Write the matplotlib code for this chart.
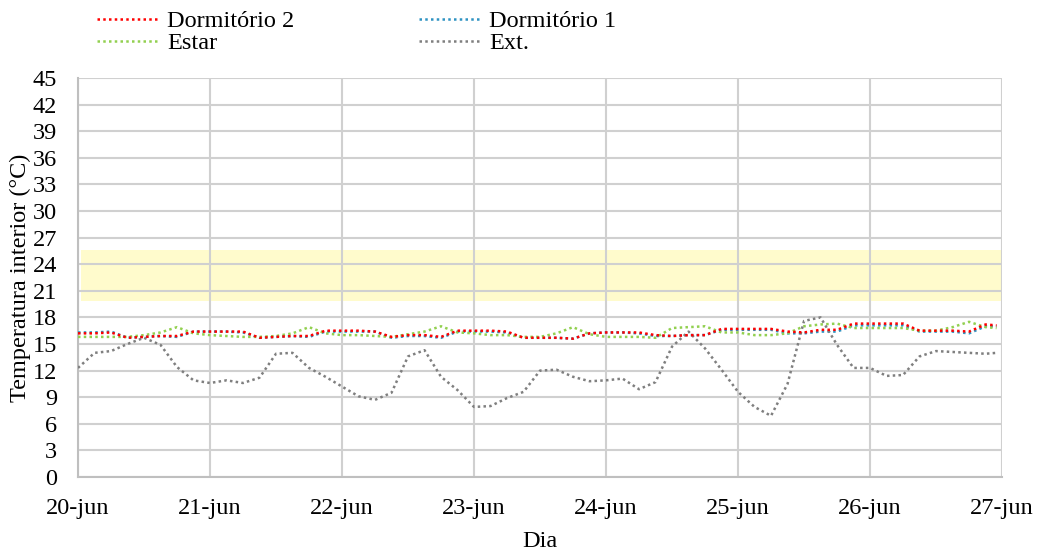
import numpy as np
import matplotlib
matplotlib.use("Agg")
import matplotlib.pyplot as plt

# time in hours since 20-jun 00:00 (3-hourly readings, last at 26-jun 23:00)
hours = list(range(0, 168, 3)) + [167]

day_labels = ['20-jun', '21-jun', '22-jun', '23-jun', '24-jun', '25-jun', '26-jun', '27-jun']

dorm2 = [16.2, 16.2, 16.3, 15.7, 15.8, 15.9, 15.9, 16.4,
         16.4, 16.4, 16.4, 15.7, 15.8, 15.9, 15.9, 16.5,
         16.5, 16.5, 16.4, 15.8, 16.0, 16.0, 15.8, 16.5,
         16.5, 16.5, 16.4, 15.7, 15.7, 15.7, 15.6, 16.2,
         16.3, 16.3, 16.3, 16.0, 15.9, 16.0, 16.0, 16.7,
         16.7, 16.7, 16.7, 16.4, 16.3, 16.6, 16.6, 17.3,
         17.3, 17.3, 17.3, 16.5, 16.5, 16.5, 16.4, 17.2, 17.1]

dorm1 = [16.3, 16.3, 16.4, 15.7, 15.8, 15.9, 15.8, 16.4,
         16.4, 16.4, 16.3, 15.7, 15.8, 15.9, 15.8, 16.4,
         16.4, 16.4, 16.4, 15.7, 15.9, 15.9, 15.7, 16.4,
         16.4, 16.4, 16.3, 15.7, 15.7, 15.7, 15.6, 16.2,
         16.3, 16.3, 16.2, 15.9, 15.9, 16.0, 16.0, 16.6,
         16.6, 16.6, 16.6, 16.2, 16.2, 16.4, 16.4, 17.1,
         17.1, 17.1, 17.1, 16.4, 16.4, 16.4, 16.2, 17.0, 17.0]

estar = [15.8, 15.8, 15.8, 15.8, 16.0, 16.3, 16.9, 16.2,
         16.0, 15.9, 15.8, 15.8, 15.9, 16.2, 16.9, 16.2,
         16.0, 16.0, 15.9, 15.8, 16.1, 16.4, 17.0, 16.3,
         16.2, 16.0, 16.0, 15.8, 15.8, 16.2, 16.9, 16.1,
         15.8, 15.8, 15.8, 15.7, 16.8, 16.9, 17.0, 16.3,
         16.3, 16.0, 16.0, 16.2, 17.0, 17.2, 17.3, 16.8,
         16.8, 16.8, 16.8, 16.5, 16.5, 16.9, 17.5, 16.9, 16.8]

ext = [12.3, 14.0, 14.2, 15.0, 15.7, 14.9, 12.4, 10.9,
       10.6, 10.9, 10.6, 11.2, 13.9, 14.0, 12.3, 11.3,
       10.2, 9.1, 8.7, 9.5, 13.6, 14.3, 11.3, 9.8,
       7.9, 8.0, 8.9, 9.6, 12.0, 12.1, 11.3, 10.8,
       10.9, 11.1, 9.9, 10.7, 14.7, 16.4, 14.5, 12.1,
       9.6, 7.9, 6.9, 10.5, 17.6, 18.0, 14.9, 12.3,
       12.3, 11.4, 11.5, 13.6, 14.2, 14.1, 14.0, 13.9, 14.0]

comfort_low, comfort_high = 19.9, 25.6

plt.rcParams['font.family'] = ['Liberation Serif', 'DejaVu Serif']
FS = 17.5

fig = plt.figure(figsize=(10.4, 5.52), dpi=100)
ax = fig.add_axes([0.075, 0.1359, 0.8885, 0.7228])

ax.axhspan(comfort_low, comfort_high, xmin=3 / 924, xmax=1, color='#FFFBCC', zorder=0, lw=0)

dot = (0, (1, 1.3))
l_d2, = ax.plot(hours, dorm2, color='#FF0000', lw=1.8, ls=dot, zorder=4, label='Dormitório 2')
l_d1, = ax.plot(hours, dorm1, color='#2E93C2', lw=1.8, ls=dot, zorder=3, label='Dormitório 1')
l_es, = ax.plot(hours, estar, color='#92D050', lw=1.8, ls=dot, zorder=3, label='Estar')
l_ex, = ax.plot(hours, ext, color='#7F7F7F', lw=1.8, ls=dot, zorder=3, label='Ext.')

ax.set_xlim(0, 168)
ax.set_ylim(0, 45)
ax.set_xticks(np.arange(0, 169, 24))
ax.set_xticklabels(day_labels, fontsize=FS)
ax.set_yticks(np.arange(0, 46, 3))
ax.tick_params(axis='both', length=0, labelsize=FS)
ax.tick_params(axis='x', pad=15)
ax.tick_params(axis='y', pad=15)

ax.grid(True, color='#D0D0D0', lw=1.5, zorder=1)
ax.set_axisbelow(True)
for s in ['top', 'right']:
    ax.spines[s].set_visible(False)
for s in ['left', 'bottom']:
    ax.spines[s].set_color('#BFBFBF')
    ax.spines[s].set_linewidth(1.5)

ax.set_xlabel('Dia', fontsize=FS, labelpad=9)
ax.set_ylabel('Temperatura interior (°C)', fontsize=FS, labelpad=1)

fig.legend(handles=[l_d2, l_es, l_d1, l_ex], ncol=2, loc='upper left',
           bbox_to_anchor=(97 / 1040, 1 - 10 / 552), frameon=False, fontsize=FS,
           handlelength=2.5, handletextpad=0.4, columnspacing=5.1,
           labelspacing=0.0, borderaxespad=0, borderpad=0)

fig.savefig('out.png', dpi=100)
